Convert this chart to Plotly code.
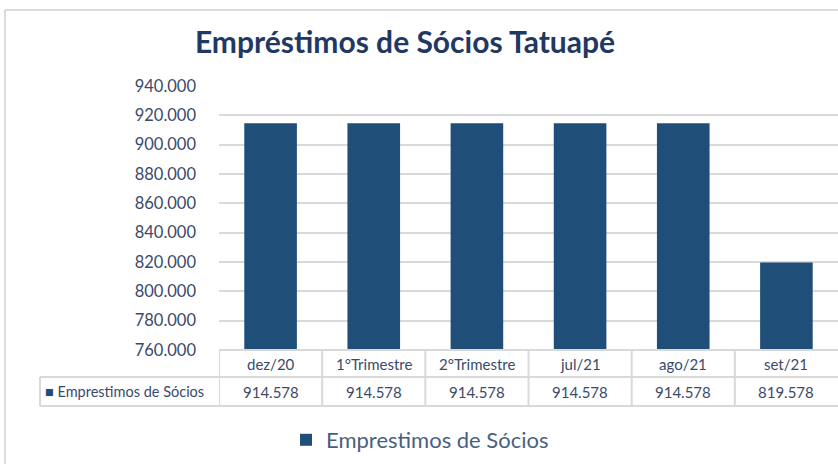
import plotly.graph_objects as go

categories = ["dez/20", "1°Trimestre", "2°Trimestre", "jul/21", "ago/21", "set/21"]
values = [914578, 914578, 914578, 914578, 914578, 819578]
value_labels = ["914.578", "914.578", "914.578", "914.578", "914.578", "819.578"]
series_name = "Emprestimos de Sócios"
title = "Empréstimos de Sócios Tatuapé"

W, H = 838, 464
L, R, T, B = 219, 0, 86, 114
PW = W - L - R
PH = H - T - B
BAR = "#1F4E79"
GRID = "#D9D9D9"
TXT = "#3A4A6B"
FONT = "Lato, Open Sans, sans-serif"


def px_x(px):
    return (px - L) / PW


def px_y(py):
    return (H - B - py) / PH


fig = go.Figure()
fig.add_trace(go.Bar(x=list(range(len(categories))), y=values, name=series_name,
                     marker=dict(color=BAR, line=dict(width=0)), width=0.51,
                     showlegend=True))

shapes = []
annotations = []
row1_top, row1_bot, row2_bot = px_y(350), px_y(377), px_y(406)
line = dict(color=GRID, width=2)
shapes.append(dict(type="line", xref="paper", yref="paper", x0=0, x1=1, y0=row1_top, y1=row1_top, line=line))
shapes.append(dict(type="line", xref="paper", yref="paper", x0=px_x(40), x1=1, y0=row1_bot, y1=row1_bot, line=line))
shapes.append(dict(type="line", xref="paper", yref="paper", x0=px_x(40), x1=1, y0=row2_bot, y1=row2_bot, line=line))
shapes.append(dict(type="line", xref="paper", yref="paper", x0=px_x(40), x1=px_x(40), y0=row1_bot, y1=row2_bot, line=line))
for i in range(len(categories)):
    shapes.append(dict(type="line", xref="x", yref="paper", x0=i - 0.5, x1=i - 0.5,
                       y0=row1_top, y1=row2_bot, line=line))
    annotations.append(dict(x=i, xref="x", y=(row1_top + row1_bot) / 2, yref="paper",
                            yanchor="middle", text=categories[i], showarrow=False,
                            font=dict(family=FONT, size=15, color=TXT)))
    annotations.append(dict(x=i, xref="x", y=(row1_bot + row2_bot) / 2, yref="paper",
                            yanchor="middle", text=value_labels[i], showarrow=False,
                            font=dict(family=FONT, size=15, color=TXT)))
annotations.append(dict(x=px_x(43), xref="paper", xanchor="left", y=(row1_bot + row2_bot) / 2,
                        yref="paper", yanchor="middle", showarrow=False,
                        text=f"<span style='color:{BAR}'>■</span> {series_name}",
                        font=dict(family=FONT, size=14.5, color=TXT)))
shapes.append(dict(type="line", xref="paper", yref="paper", x0=px_x(5), x1=px_x(5),
                   y0=px_y(10), y1=px_y(470), line=dict(color="#D0D0D0", width=1.5)))
shapes.append(dict(type="line", xref="paper", yref="paper", x0=px_x(5), x1=px_x(845),
                   y0=px_y(10), y1=px_y(10), line=dict(color="#D0D0D0", width=1.5)))

fig.update_layout(
    width=W, height=H,
    margin=dict(l=L, r=R, t=T, b=B),
    paper_bgcolor="white", plot_bgcolor="white",
    separators=",.",
    title=dict(text=f"<b>{title}</b>", xref="container", x=405 / W, xanchor="center",
               yref="container", y=1 - 42 / H, yanchor="middle",
               font=dict(family=FONT, size=30, color="#1F3864")),
    xaxis=dict(range=[-0.5, len(categories) - 0.5], showticklabels=False, showgrid=False,
               zeroline=False, showline=False, ticks=""),
    yaxis=dict(range=[760000, 940000], dtick=20000, tickformat=",.0f",
               showgrid=True, gridcolor=GRID, gridwidth=2, zeroline=False, showline=False,
               ticks="", ticklabelstandoff=22,
               tickfont=dict(family=FONT, size=16.5, color=TXT)),
    legend=dict(orientation="h", x=px_x(420), xanchor="center", y=px_y(440), yanchor="middle",
                font=dict(family=FONT, size=22, color="#4A5F80"), itemwidth=30),
    shapes=shapes,
    annotations=annotations,
    bargap=0.49,
)

fig.write_html("out.html", config={"displayModeBar": False},
               post_script="document.body.style.margin='0';document.body.style.overflow='hidden';")
